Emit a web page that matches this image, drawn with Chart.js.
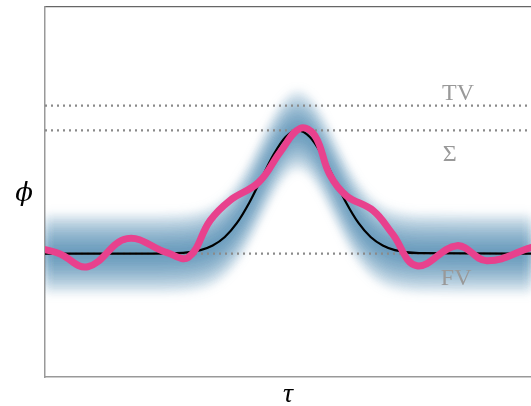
<!DOCTYPE html>
<html>
<head>
<meta charset="utf-8">
<script src="https://cdn.jsdelivr.net/npm/chart.js@4/dist/chart.umd.min.js"></script>
<style>
html,body{margin:0;padding:0;background:#fff;}
#wrap{width:531px;height:406px;position:relative;}
</style>
</head>
<body>
<div id="wrap"><canvas id="c" width="531" height="406"></canvas></div>
<script>
// ---- data (x in arbitrary τ units 0..100, φ with FV=0, Σ=1) ----
const modelX = [0, 20, 27, 32, 34.5, 37, 39.5, 42, 44.5, 47, 49.5, 52, 54.5, 57, 59.5, 62, 64.5, 67, 69.5, 72, 77, 100];
const modelY = [0, 0, 0.004, 0.029, 0.066, 0.135, 0.249, 0.411, 0.607, 0.801, 0.946, 1, 0.946, 0.801, 0.607, 0.411, 0.249, 0.135, 0.066, 0.029, 0.004, 0];

const sampleX = [0, 3.0, 8.8, 16.9, 25.1, 29.5, 34.0, 38.0, 44.0, 48.5, 52.5, 55.5, 58.6, 62.0, 67.5, 71.5, 76.5, 84.8, 90.9, 100];
const sampleY = [0.033, 0.0, -0.106, 0.122, 0.008, -0.03, 0.27, 0.43, 0.58, 0.83, 1.016, 0.96, 0.64, 0.47, 0.35, 0.16, -0.098, 0.065, -0.057, 0.05];

const refLevels = [1.2, 1, 0];          // TV, Σ, FV
const refLabels = ['TV', 'Σ', 'FV'];
const refLabelY = [1.30, 0.80, -0.20];
const refLabelX = [85, 83.3, 84.6];

const axisLabelX = 'τ';
const axisLabelY = 'ϕ';

// ---- build datasets ----
const datasets = [];
const bandLayers = 9, bandStep = 0.036;
for (let k = bandLayers; k >= 1; k--) {
  datasets.push({
    data: modelX.map((x, i) => ({x, y: modelY[i] + k * bandStep})),
    borderWidth: 0, pointRadius: 0, cubicInterpolationMode: 'monotone',
    fill: '+1', backgroundColor: 'rgba(45,115,165,0.13)', band: true, order: 10
  });
  datasets.push({
    data: modelX.map((x, i) => ({x, y: modelY[i] - k * bandStep})),
    borderWidth: 0, pointRadius: 0, cubicInterpolationMode: 'monotone',
    fill: false, band: true, order: 10
  });
}
refLevels.forEach(v => {
  datasets.push({
    data: [{x: 0, y: v}, {x: 100, y: v}],
    borderColor: '#8a8a8a', borderWidth: 2.4, borderDash: [2, 4],
    pointRadius: 0, fill: false, order: 3
  });
});
datasets.push({
  data: modelX.map((x, i) => ({x, y: modelY[i]})),
  borderColor: '#000', borderWidth: 2.2, pointRadius: 0,
  cubicInterpolationMode: 'monotone', fill: false, order: 2
});
datasets.push({
  data: sampleX.map((x, i) => ({x, y: sampleY[i]})),
  borderColor: '#e8418d', borderWidth: 7, pointRadius: 0,
  tension: 0.4, fill: false, borderCapStyle: 'round', borderJoinStyle: 'round', order: 1
});

let blurOn = false;
const blurPlugin = {
  id: 'blurBand',
  beforeDatasetsDraw(chart) {
    chart.ctx.save();
    chart.ctx.filter = 'blur(5px)';
    blurOn = true;
  },
  beforeDatasetDraw(chart, args) {
    if (blurOn && !chart.data.datasets[args.index].band) {
      chart.ctx.restore();
      blurOn = false;
    }
  },
  afterDatasetsDraw(chart) {
    if (blurOn) { chart.ctx.restore(); blurOn = false; }
  }
};

const textPlugin = {
  id: 'texts',
  afterDatasetsDraw(chart) {
    const ctx = chart.ctx, xs = chart.scales.x, ys = chart.scales.y;
    ctx.save();
    ctx.fillStyle = '#999';
    ctx.font = '24px "Liberation Serif", "DejaVu Serif", serif';
    ctx.textAlign = 'center';
    ctx.textBaseline = 'middle';
    refLabels.forEach((t, i) => {
      ctx.fillText(t, xs.getPixelForValue(refLabelX[i]), ys.getPixelForValue(refLabelY[i]));
    });
    ctx.fillStyle = '#000';
    ctx.font = 'italic 26px "DejaVu Serif", "Liberation Serif", serif';
    ctx.fillText(axisLabelY, 24, 194);
    ctx.font = 'italic 28px "Liberation Serif", "DejaVu Serif", serif';
    ctx.fillText(axisLabelX, (chart.chartArea.left + chart.chartArea.right) / 2, 395);
    ctx.restore();
  }
};

new Chart(document.getElementById('c'), {
  type: 'line',
  data: {datasets},
  options: {
    responsive: false, animation: false,
    layout: {padding: {left: 45, top: 7, bottom: 29, right: 0}},
    plugins: {legend: {display: false}, tooltip: {enabled: false}, filler: {drawTime: 'beforeDatasetDraw'}},
    scales: {
      x: {type: 'linear', min: 0, max: 100, position: 'bottom',
          grid: {display: false, drawTicks: false}, ticks: {display: false},
          border: {display: true, color: '#999', width: 1.5}},
      x2: {type: 'linear', min: 0, max: 100, position: 'top',
          grid: {display: false, drawTicks: false}, ticks: {display: false},
          border: {display: true, color: '#666', width: 1.2}},
      y: {type: 'linear', min: -1, max: 2,
          grid: {display: false, drawTicks: false}, ticks: {display: false},
          border: {display: true, color: '#999', width: 1.5}}
    }
  },
  plugins: [blurPlugin, textPlugin]
});
</script>
</body>
</html>
